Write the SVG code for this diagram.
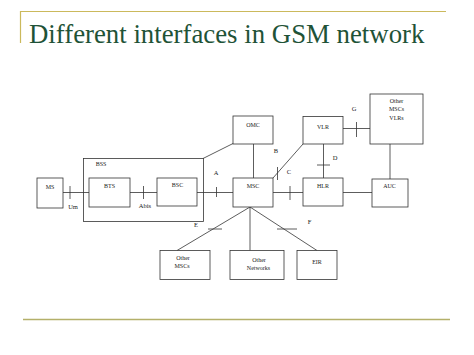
<svg xmlns="http://www.w3.org/2000/svg" width="474" height="355" viewBox="0 0 474 355">
<style>
.box{fill:#ffffff;stroke:#333333;stroke-width:0.8}
.ln{fill:none;stroke:#333333;stroke-width:0.8}
.t{font-family:"Liberation Serif","Times New Roman",serif;font-size:6px;fill:#222222;text-anchor:middle}
.lb{font-family:"Liberation Serif","Times New Roman",serif;font-size:6.5px;fill:#222222;text-anchor:middle}
.title{font-family:"Liberation Serif","Times New Roman",serif;font-size:26.8px;fill:#1f5337}
</style>
<rect width="474" height="355" fill="#ffffff"/>
<g id="frame">
<line x1="20" y1="11.5" x2="446" y2="11.5" stroke="#cbb95c" stroke-width="1.2"/>
<line x1="20.5" y1="11" x2="20.5" y2="43" stroke="#cbb95c" stroke-width="1.2"/>
<line x1="23" y1="319.5" x2="450" y2="319.5" stroke="#b4b06a" stroke-width="1.3"/>
<text class="title" x="29" y="42.5">Different interfaces in GSM network</text>
</g>
<g id="connectors">
<line class="ln" x1="63" y1="192.5" x2="89" y2="192.5"/>
<line class="ln" x1="70" y1="186" x2="70" y2="199"/>
<line class="ln" x1="130" y1="192.5" x2="157" y2="192.5"/>
<line class="ln" x1="143.5" y1="186" x2="143.5" y2="199"/>
<line class="ln" x1="197" y1="192.5" x2="233" y2="192.5"/>
<line class="ln" x1="216.5" y1="187" x2="216.5" y2="197"/>
<line class="ln" x1="203" y1="158.5" x2="233" y2="143.5"/>
<line class="ln" x1="253.5" y1="144" x2="253.5" y2="178"/>
<line class="ln" x1="303" y1="144" x2="273" y2="178"/>
<line class="ln" x1="277.5" y1="167" x2="277.5" y2="180"/>
<line class="ln" x1="273" y1="192.5" x2="303" y2="192.5"/>
<line class="ln" x1="290" y1="186" x2="290" y2="200"/>
<line class="ln" x1="323.5" y1="144" x2="323.5" y2="178"/>
<line class="ln" x1="317" y1="165" x2="330" y2="165"/>
<line class="ln" x1="343" y1="128.5" x2="370" y2="128.5"/>
<line class="ln" x1="356.5" y1="122" x2="356.5" y2="137"/>
<line class="ln" x1="390" y1="144" x2="390" y2="179"/>
<line class="ln" x1="343" y1="192.5" x2="372" y2="192.5"/>
<line class="ln" x1="250" y1="207" x2="177" y2="250.5"/>
<line class="ln" x1="250" y1="207" x2="250" y2="250.5"/>
<line class="ln" x1="250" y1="207" x2="317" y2="250.5"/>
<line class="ln" x1="208" y1="229" x2="222" y2="229"/>
<line class="ln" x1="277" y1="229" x2="297" y2="229"/>
<text class="lb" x="73" y="208.5">Um</text>
<text class="lb" x="145" y="207.5">Abis</text>
<text class="lb" x="216" y="174.5">A</text>
<text class="lb" x="196" y="226.5">E</text>
<text class="lb" x="276" y="153">B</text>
<text class="lb" x="289" y="174">C</text>
<text class="lb" x="335" y="160">D</text>
<text class="lb" x="354" y="111">G</text>
<text class="lb" x="309.5" y="223.5">F</text>
</g>
<g id="ms"><rect class="box" x="37" y="178" width="26" height="30"/><text class="t" x="50" y="189">MS</text></g>
<g id="bss"><rect class="ln" x="83.5" y="158.5" width="120" height="63"/><text class="t" x="101" y="166">BSS</text></g>
<g id="bts"><rect class="box" x="89" y="178" width="41" height="29"/><text class="t" x="109.5" y="187.5">BTS</text></g>
<g id="bsc"><rect class="box" x="157" y="178" width="40" height="28"/><text class="t" x="177.5" y="187">BSC</text></g>
<g id="omc"><rect class="box" x="233" y="116" width="40" height="28"/><text class="t" x="253" y="127">OMC</text></g>
<g id="msc"><rect class="box" x="233" y="178" width="40" height="29"/><text class="t" x="253" y="188">MSC</text></g>
<g id="vlr"><rect class="box" x="303" y="116.5" width="40" height="27.5"/><text class="t" x="323" y="129">VLR</text></g>
<g id="hlr"><rect class="box" x="303" y="178" width="40" height="28"/><text class="t" x="323" y="188">HLR</text></g>
<g id="other-msc-vlr"><rect class="box" x="370" y="94" width="53" height="50"/><text class="t" x="396.5" y="102.5">Other</text><text class="t" x="396.5" y="111">MSCs</text><text class="t" x="396.5" y="119.5">VLRs</text></g>
<g id="auc"><rect class="box" x="372" y="179" width="36" height="28"/><text class="t" x="389.5" y="187.5">AUC</text></g>
<g id="other-mscs"><rect class="box" x="160" y="250.5" width="50" height="29"/><text class="t" x="183" y="260">Other</text><text class="t" x="182" y="268">MSCs</text></g>
<g id="other-networks"><rect class="box" x="230" y="250.5" width="54" height="29"/><text class="t" x="259" y="261.5">Other</text><text class="t" x="258.5" y="270">Networks</text></g>
<g id="eir"><rect class="box" x="297" y="250.5" width="40" height="29"/><text class="t" x="317" y="264">EIR</text></g>
</svg>
